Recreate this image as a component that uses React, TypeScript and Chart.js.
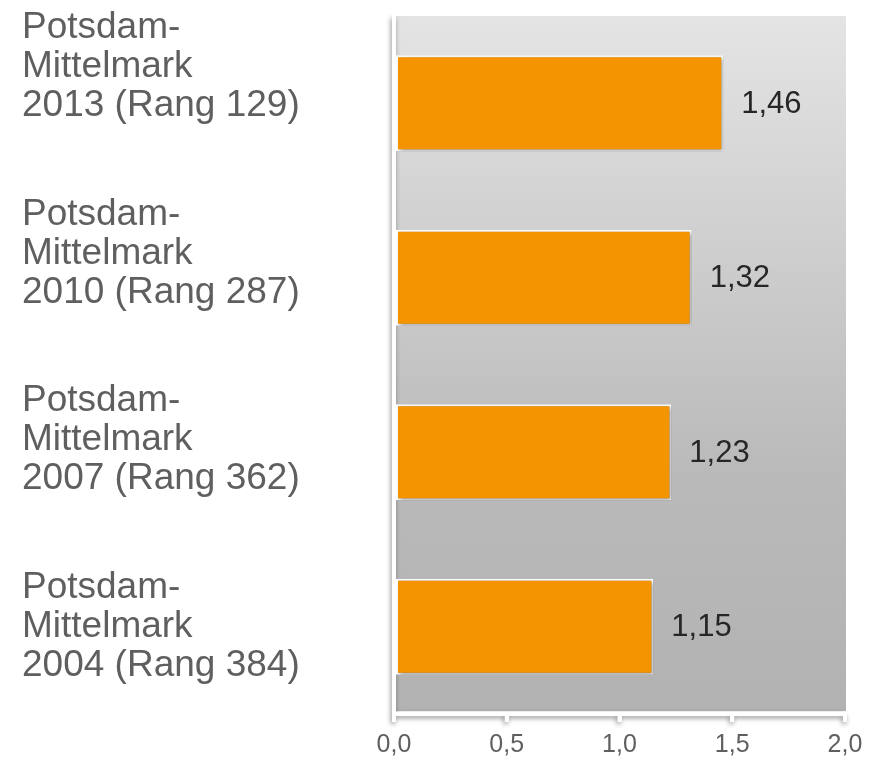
import React, { useEffect, useRef } from "react";
import { Chart, registerables } from "chart.js";

Chart.register(...registerables);

const categories: string[][] = [
  ["Potsdam-", "Mittelmark", "2013 (Rang 129)"],
  ["Potsdam-", "Mittelmark", "2010 (Rang 287)"],
  ["Potsdam-", "Mittelmark", "2007 (Rang 362)"],
  ["Potsdam-", "Mittelmark", "2004 (Rang 384)"],
];
const values: number[] = [1.46, 1.32, 1.23, 1.15];
const xTickValues: number[] = [0, 0.5, 1.0, 1.5, 2.0];

const FONT = "'Liberation Sans', Arial, sans-serif";
const fmt = (v: number, d: number) => v.toFixed(d).replace(".", ",");

const decorPlugin = {
  id: "decor",
  beforeDraw(chart: any) {
    const { ctx, chartArea } = chart;
    const g = ctx.createLinearGradient(0, chartArea.top, 0, chartArea.bottom);
    g.addColorStop(0, "#e4e4e4");
    g.addColorStop(0.65, "#bababa");
    g.addColorStop(1, "#b2b2b2");
    ctx.save();
    ctx.fillStyle = g;
    ctx.fillRect(chartArea.left + 2, chartArea.top, chartArea.right - chartArea.left - 1, chartArea.bottom - chartArea.top - 3);
    // soft shadow under the white axis lines
    ctx.shadowColor = "rgba(0,0,0,0.45)";
    ctx.shadowBlur = 5;
    ctx.shadowOffsetX = -1;
    ctx.shadowOffsetY = 2;
    ctx.strokeStyle = "#ffffff";
    ctx.lineWidth = 4;
    ctx.beginPath();
    ctx.moveTo(chartArea.left, chartArea.top);
    ctx.lineTo(chartArea.left, chartArea.bottom + 8);
    ctx.moveTo(chartArea.left, chartArea.bottom);
    ctx.lineTo(chartArea.right, chartArea.bottom);
    const xs = chart.scales.x;
    xTickValues.forEach((v) => {
      const px = xs.getPixelForValue(v);
      ctx.moveTo(px, chartArea.bottom);
      ctx.lineTo(px, chartArea.bottom + 8);
    });
    ctx.stroke();
    ctx.restore();
  },
  beforeDatasetsDraw(chart: any) {
    const { ctx } = chart;
    ctx.save();
    ctx.shadowColor = "rgba(0,0,0,0.35)";
    ctx.shadowBlur = 4;
    ctx.shadowOffsetX = 2;
    ctx.shadowOffsetY = 2;
  },
  afterDatasetsDraw(chart: any) {
    const { ctx } = chart;
    ctx.restore();
    const meta = chart.getDatasetMeta(0);
    ctx.save();
    ctx.font = `31px ${FONT}`;
    ctx.fillStyle = "#262626";
    ctx.textAlign = "left";
    ctx.textBaseline = "middle";
    meta.data.forEach((bar: any, i: number) => {
      const v = chart.data.datasets[0].data[i] as number;
      ctx.fillText(fmt(v, 2), bar.x + 18, bar.y + 1);
    });
    ctx.restore();
  },
};

export default function App() {
  const ref = useRef<HTMLCanvasElement>(null);
  useEffect(() => {
    if (!ref.current) return;
    const chart = new Chart(ref.current, {
      type: "bar",
      data: {
        labels: categories.map((c) => c.join(" ")),
        datasets: [
          {
            data: values,
            backgroundColor: "#F39400",
            borderColor: "#ffffff",
            borderWidth: 2,
            borderSkipped: false,
            barPercentage: 0.55,
            categoryPercentage: 1,
          },
        ],
      },
      options: {
        indexAxis: "y",
        responsive: false,
        animation: false,
        devicePixelRatio: 1,
        layout: { padding: { left: 22, right: 32, top: 16, bottom: 0 } },
        plugins: { legend: { display: false }, tooltip: { enabled: false } },
        scales: {
          y: {
            type: "category",
            display: false,
          },
          yl: {
            type: "linear",
            position: "left",
            reverse: true,
            offset: false,
            beginAtZero: false,
            min: -0.272,
            max: 3.467,
            afterBuildTicks: (scale: any) => {
              scale.ticks = categories.map((_, i) => ({ value: i }));
            },
            afterFit: (scale: any) => {
              scale.width = 372;
              scale.paddingTop = 0;
              scale.paddingBottom = 0;
            },
            grid: { display: false, offset: false },
            border: { display: true, color: "#ffffff", width: 4 },
            ticks: {
              crossAlign: "far",
              padding: 0,
              autoSkip: false,
              color: "#5f5f5f",
              font: { family: FONT, size: 37, lineHeight: 1.054 },
              callback: (v: any) => categories[Math.round(Number(v))] ?? "",
            },
          },
          x: {
            type: "linear",
            position: "bottom",
            min: 0,
            max: 2,
            afterBuildTicks: (scale: any) => {
              scale.ticks = xTickValues.map((v) => ({ value: v }));
            },
            afterFit: (scale: any) => {
              scale.height = 47;
            },
            grid: {
              display: true,
              drawOnChartArea: false,
              drawTicks: true,
              tickLength: 8,
              color: "#ffffff",
              lineWidth: 4,
            },
            border: { display: true, color: "#ffffff", width: 4 },
            ticks: {
              padding: 8,
              color: "#5f5f5f",
              font: { family: FONT, size: 25 },
              maxRotation: 0,
              callback: (v: any) => fmt(Number(v), 1),
            },
          },
        },
      } as any,
      plugins: [decorPlugin],
    });
    return () => chart.destroy();
  }, []);
  return (
    <div style={{ position: "fixed", left: 0, top: 0, width: 877, height: 761, background: "#ffffff" }}>
      <canvas ref={ref} width={877} height={761} style={{ width: 877, height: 761, display: "block" }} />
    </div>
  );
}
